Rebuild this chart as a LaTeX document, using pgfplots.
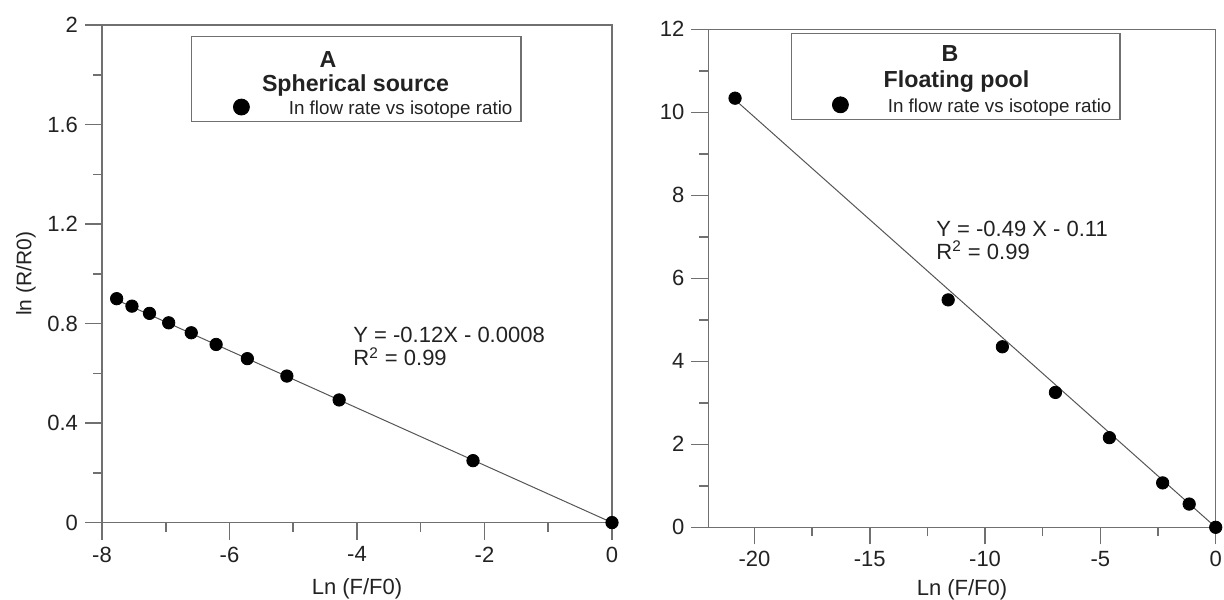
\documentclass[border=0pt]{standalone}
\usepackage{fontspec}
\setmainfont{Liberation Sans}
\usepackage{pgfplots}
\pgfplotsset{compat=1.18}
\definecolor{axgray}{HTML}{707070}
\definecolor{fitgray}{HTML}{555555}
\definecolor{txt}{HTML}{222222}

\pgfplotsset{
  panel/.style={
    scale only axis,
    axis line style={axgray, line width=0.75pt},
    tick style={axgray, line width=0.75pt},
    tick align=outside,
    tick pos=left,
    major tick length=8.5pt,
    minor tick length=4.5pt,
    minor x tick num=1, minor y tick num=1,
    tick label style={font=\fontsize{11}{13}\selectfont, text=txt},
    label style={font=\fontsize{11}{13}\selectfont, text=txt},
    clip=false,
    legend cell align=left,
    legend style={draw=none, fill=none, inner sep=0pt, outer sep=0pt,
      column sep=19.5pt, font=\fontsize{9.4}{11}\selectfont, text=txt,
      nodes={inner sep=0pt}},
  },
  dots/.style={only marks, mark=*, mark size=3.1pt, black,
    legend image code/.code={\fill[black] (0pt,1pt) circle (4pt);}},
  fit/.style={fitgray, line width=0.5pt, forget plot},
}

\begin{document}
\begin{tikzpicture}
\path[use as bounding box] (0,0) rectangle (612pt,299.5pt);

% panel A
\begin{axis}[panel, at={(51pt,38.2pt)}, anchor=south west,
  width=255pt, height=248.8pt,
  xmin=-8, xmax=0, ymin=0, ymax=2,
  xtick={-8,-6,-4,-2,0}, xticklabels={-8,-6,-4,-2,0},
  ytick={0,0.4,0.8,1.2,1.6,2}, yticklabels={0,0.4,0.8,1.2,1.6,2},
  xlabel={Ln (F/F0)},
  xlabel style={at={(axis description cs:0.5,-0.1455)}, anchor=base},
  ylabel={ln (R/R0)},
  ylabel style={at={(axis description cs:-0.149,0.5)}, anchor=center, font=\fontsize{10.5}{12}\selectfont},
  legend style={at={(0.2569,0.8332)}, anchor=west}]
\addplot[fit] coordinates {(-7.77,0.895) (0,0)};
\addplot[dots] coordinates {
  (-7.77,0.900) (-7.53,0.870) (-7.255,0.841) (-6.954,0.803) (-6.60,0.763)
  (-6.21,0.716) (-5.72,0.659) (-5.10,0.589) (-4.28,0.493) (-2.18,0.249) (0,0)};
\addlegendentry{In flow rate vs isotope ratio}
\end{axis}

% panel B
\begin{axis}[panel, at={(354.15pt,35.85pt)}, anchor=south west,
  width=253.7pt, height=249pt,
  xmin=-22, xmax=0, ymin=0, ymax=12,
  xtick={-20,-15,-10,-5,0}, xticklabels={-20,-15,-10,-5,0},
  ytick={0,2,4,6,8,10,12}, yticklabels={0,2,4,6,8,10,12},
  xlabel={Ln (F/F0)},
  xlabel style={at={(axis description cs:0.5,-0.136)}, anchor=base},
  legend style={at={(0.2438,0.8464)}, anchor=west}]
\addplot[fit] coordinates {(-20.84,10.30) (0,0)};
\addplot[dots] coordinates {
  (-20.84,10.34) (-11.60,5.48) (-9.25,4.35) (-6.95,3.25) (-4.61,2.16)
  (-2.30,1.07) (-1.15,0.56) (0,0)};
\addlegendentry{In flow rate vs isotope ratio}
\end{axis}

% legend frames and titles
\draw[axgray, line width=0.6pt] (95.85pt,238.65pt) rectangle (260.5pt,281.15pt);
\node[anchor=base, inner sep=0pt, text=txt, font=\bfseries\fontsize{11.6}{13}\selectfont] at (164pt,265.8pt) {A};
\node[anchor=base, inner sep=0pt, text=txt, font=\bfseries\fontsize{11.6}{13}\selectfont] at (177.75pt,253.6pt) {Spherical source};

\draw[axgray, line width=0.6pt] (395.75pt,239.85pt) rectangle (560pt,282.85pt);
\node[anchor=base, inner sep=0pt, text=txt, font=\bfseries\fontsize{11.6}{13}\selectfont] at (475pt,268.6pt) {B};
\node[anchor=base, inner sep=0pt, text=txt, font=\bfseries\fontsize{11.6}{13}\selectfont] at (478.25pt,255.8pt) {Floating pool};

% fit equations
\node[anchor=base west, inner sep=0pt, text=txt, font=\fontsize{11}{13}\selectfont] at (176.5pt,128pt) {Y = -0.12X - 0.0008};
\node[anchor=base west, inner sep=0pt, text=txt, font=\fontsize{11}{13}\selectfont] at (176.5pt,116.5pt) {R\textsuperscript{2} = 0.99};
\node[anchor=base west, inner sep=0pt, text=txt, font=\fontsize{11}{13}\selectfont] at (468pt,181.25pt) {Y = -0.49 X - 0.11};
\node[anchor=base west, inner sep=0pt, text=txt, font=\fontsize{11}{13}\selectfont] at (468pt,169.75pt) {R\textsuperscript{2} = 0.99};
\end{tikzpicture}
\end{document}
